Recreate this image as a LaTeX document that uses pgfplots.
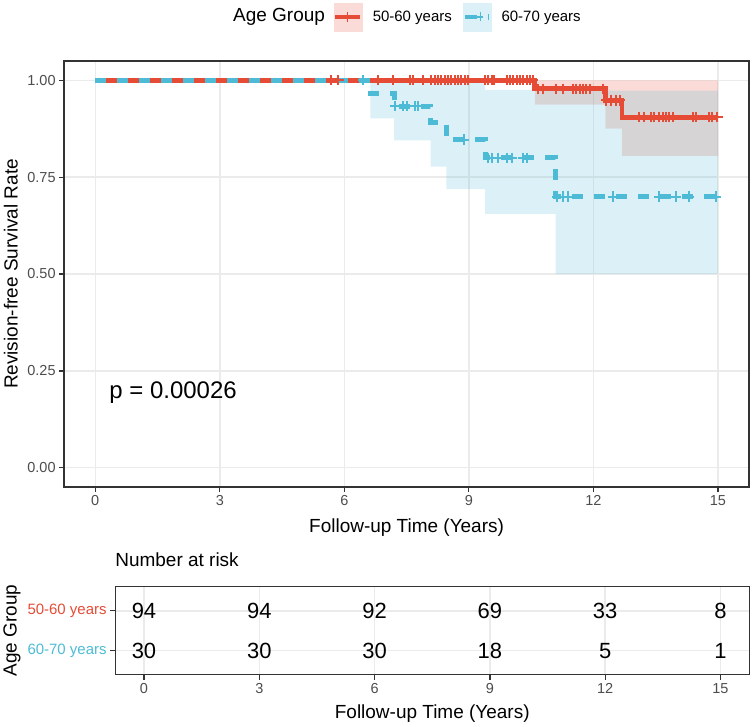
\documentclass[border=0pt]{standalone}
\usepackage{fontspec}
\setmainfont{Liberation Sans}
\usepackage{pgfplots}
\pgfplotsset{compat=1.18}
\usepgfplotslibrary{fillbetween}
\definecolor{npgred}{HTML}{E64B35}
\definecolor{npgblue}{HTML}{4DBBD5}
\definecolor{gridc}{HTML}{EBEBEB}
\definecolor{framec}{HTML}{333333}
\definecolor{tlab}{HTML}{4D4D4D}
\newcommand\fs[1]{\fontsize{#1}{#1}\selectfont}
\pgfplotsset{
  kmstyle/.style={
    scale only axis, xmin=-0.75, xmax=15.75,
    xtick={0,3,6,9,12,15}, tick pos=left, tick align=outside,
    major tick length=5pt,
    axis line style={line width=1.3pt, color=framec},
    tick style={line width=1.3pt, color=framec},
    grid=major, major grid style={line width=1.5pt, color=gridc},
    ticklabel style={font=\fs{14.5}, color=tlab},
    /pgf/number format/assume math mode=true,
    label style={font=\fs{19}, text=black},
  }
}
\begin{document}
\begin{tikzpicture}
% ---------------- main survival plot ----------------
\begin{axis}[kmstyle, clip=false,
  at={(63.3pt,239.3pt)}, anchor=south west,
  width=685.7pt, height=426.7pt,
  ymin=-0.05, ymax=1.05,
  ytick={0,0.25,0.5,0.75,1},
  yticklabels={0.00,0.25,0.50,0.75,1.00},
  xlabel={Follow-up Time (Years)},
  ylabel={Revision-free Survival Rate},
  xlabel style={at={(axis description cs:0.5,-0.0955)}, anchor=center},
  ylabel style={at={(axis description cs:-0.0777,0.5)}, anchor=center},
  legend style={at={(0.3929,1.1031)}, anchor=west, draw=none, fill=none,
    inner sep=0pt, outer sep=0pt, legend columns=-1, column sep=10.5pt,
    nodes={inner sep=0pt, outer sep=0pt, anchor=west}, font=\fs{15}},
]
% confidence bands
\addplot[name path=rU, draw=none, const plot, forget plot] coordinates {(0,1) (15,1)};
\addplot[name path=rL, draw=none, const plot, forget plot] coordinates {(0,1) (10.59,0.937) (12.29,0.875) (12.69,0.805) (15,0.805)};
\addplot[npgred, fill opacity=0.2, draw=none, forget plot] fill between[of=rU and rL];
\addplot[name path=bU, draw=none, const plot, forget plot] coordinates {(0,1) (8.46,0.993) (9.39,0.975) (11.09,0.973) (15,0.973)};
\addplot[name path=bL, draw=none, const plot, forget plot] coordinates {(0,1) (6.63,0.902) (7.2,0.845) (8.08,0.777) (8.46,0.719) (9.39,0.655) (11.09,0.50) (15,0.50)};
\addplot[npgblue, fill opacity=0.2, draw=none, forget plot] fill between[of=bU and bL];
% survival curves
\addplot[npgred, line width=5pt, const plot, forget plot] coordinates {(0,1) (10.59,0.978) (12.29,0.948) (12.69,0.905) (15,0.905)};
\addplot[npgblue, line width=5pt, const plot, dash pattern=on 11pt off 11pt, forget plot] coordinates {(0,1) (6.63,0.967) (7.2,0.933) (8.08,0.891) (8.46,0.847) (9.39,0.80) (11.09,0.70) (15,0.70)};
% censoring marks
\addplot[only marks, mark=+, mark size=5.2pt, npgred, mark options={line width=2pt, solid}, forget plot] coordinates {
 (5.68,1) (5.86,1) (6.82,1) (7.18,1) (7.58,1) (7.66,1) (7.90,1) (8.10,1) (8.18,1) (8.26,1) (8.34,1) (8.42,1) (8.50,1) (8.58,1) (8.66,1) (8.74,1) (8.82,1) (8.90,1) (8.98,1) (9.38,1) (9.46,1) (9.55,1) (9.60,1) (9.91,1) (9.99,1) (10.06,1) (10.15,1) (10.23,1) (10.31,1) (10.39,1) (10.47,1) (10.55,1)
 (10.67,0.978) (10.79,0.978) (11.11,0.978) (11.27,0.978) (11.51,0.978) (11.59,0.978) (11.67,0.978) (11.75,0.978) (11.83,0.978) (11.91,0.978) (12.23,0.978)
 (12.31,0.948) (12.43,0.948) (12.55,0.948) (12.63,0.948)
 (13.11,0.905) (13.23,0.905) (13.39,0.905) (13.47,0.905) (13.59,0.905) (13.67,0.905) (13.75,0.905) (13.83,0.905) (13.91,0.905) (14.39,0.905) (14.47,0.905) (14.79,0.905) (14.87,0.905) (14.99,0.905)};
\addplot[only marks, mark=+, mark size=5.2pt, npgblue, mark options={line width=2pt, solid}, forget plot] coordinates {
 (6.46,1)
 (7.22,0.933) (7.41,0.933) (7.50,0.933) (7.70,0.933) (7.78,0.933)
 (8.88,0.847)
 (9.46,0.80) (9.55,0.80) (9.71,0.80) (9.91,0.80) (10.03,0.80) (10.31,0.80) (10.39,0.80)
 (11.12,0.70) (11.27,0.70) (11.39,0.70) (12.47,0.70) (13.59,0.70) (13.99,0.70) (14.31,0.70) (14.95,0.70)};
% p value
\node[anchor=base west, inner sep=0pt, font=\fs{24}] at (axis cs:0.336,0.178) {p = 0.00026};
% legend
\node[anchor=west, inner sep=0pt, font=\fs{19}] at (rel axis cs:0.2465,1.1031) {Age Group};
\addlegendimage{legend image code/.code={
  \fill[npgred!20] (0pt,-14pt) rectangle (28pt,14pt);
  \draw[npgred, line width=4.5pt] (1.7pt,0pt) -- (26.3pt,0pt);
  \draw[npgred, line width=1.5pt] (14pt,-5pt) -- (14pt,5pt);}}
\addlegendentry{50-60 years}
\addlegendimage{legend image code/.code={
  \fill[npgblue!20] (0pt,-14pt) rectangle (28pt,14pt);
  \draw[npgblue, line width=4.5pt] (1.7pt,0pt) -- (14.5pt,0pt);
  \draw[npgblue, line width=1.5pt] (14.5pt,0pt) -- (20pt,0pt);
  \draw[npgblue, line width=1.5pt] (17.5pt,-4.5pt) -- (17.5pt,4.5pt);
  \draw[npgblue, line width=1.5pt] (25.4pt,-3pt) -- (25.4pt,3pt);}}
\addlegendentry{60-70 years}
\end{axis}
% ---------------- number at risk table ----------------
\begin{axis}[kmstyle,
  at={(114.4pt,51.5pt)}, anchor=south west,
  width=634.9pt, height=88pt,
  ymin=0.4, ymax=2.6, ytick={1,2},
  yticklabels={\textcolor{npgblue}{60-70 years},\textcolor{npgred}{50-60 years}},
  yticklabel style={font=\fs{15}},
  xlabel={Follow-up Time (Years)},
  ylabel={Age Group},
  xlabel style={at={(axis description cs:0.5,-0.443)}, anchor=center},
  ylabel style={at={(axis description cs:-0.1628,0.5)}, anchor=center},
  title={Number at risk},
  title style={at={(axis description cs:0,1)}, anchor=base west, yshift=14pt, inner sep=0pt, font=\fs{19}},
]
\addplot[draw=none, mark=none, nodes near coords, point meta=explicit symbolic,
  every node near coord/.append style={anchor=center, font=\fs{22}, text=black, inner sep=0pt}]
  coordinates {(0,2)[94] (3,2)[94] (6,2)[92] (9,2)[69] (12,2)[33] (15,2)[8]
               (0,1)[30] (3,1)[30] (6,1)[30] (9,1)[18] (12,1)[5] (15,1)[1]};
\end{axis}
\path (0,0) rectangle (753pt,727pt);
\end{tikzpicture}
\end{document}
